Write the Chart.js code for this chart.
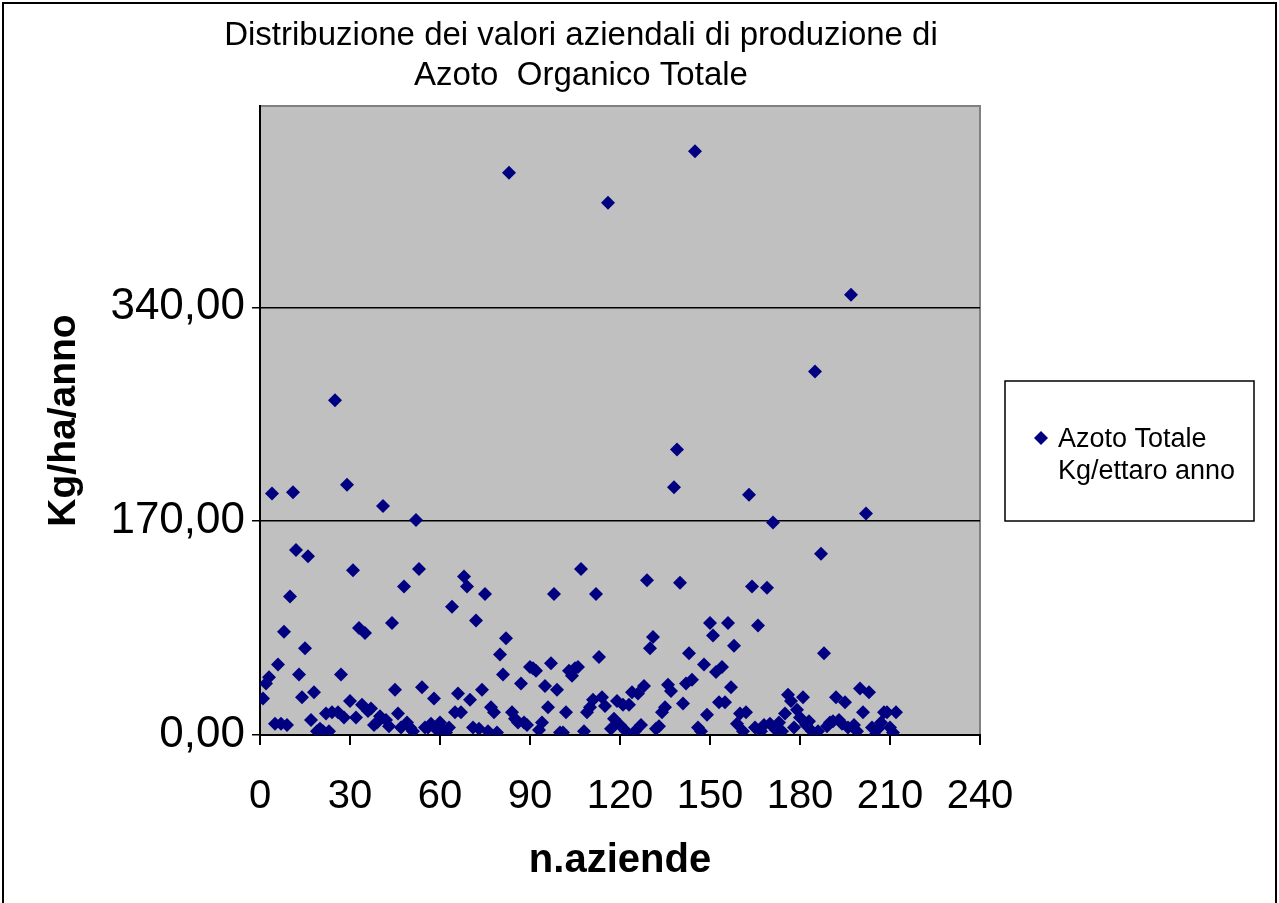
<!DOCTYPE html>
<html lang="it">
<head>
    <meta charset="UTF-8">
    <title>Azoto Organico Totale</title>
    <script src="https://cdn.jsdelivr.net/npm/chart.js"></script>
    <style>
        html, body { margin: 0; padding: 0; background: #fff; overflow: hidden; }
        #box { width: 1279px; height: 903px; }
    </style>
</head>
<body>
    <div id="box"><canvas id="azoto"></canvas></div>
    <script>
        // kg/ha/anno per azienda, in order (azienda n. 1, 2, 3 ...)
        const azotoTotale = [
            29, 41, 46, 192, 9, 56, 9, 82, 8, 110,
            193, 147, 48, 30, 69, 142, 12, 34, 3, 5,
            3, 17, 3, 18, 266, 18, 48, 14, 199, 27,
            131, 14, 85, 24, 81, 19, 21, 8, 10, 15,
            182, 12, 7, 89, 36, 17, 6, 118, 10, 6,
            3, 171, 132, 38, 6, 6, 9, 29, 4, 10,
            4, 2, 6, 102, 18, 33, 18, 126, 118, 28,
            6, 91, 5, 36, 112, 3, 22, 18, 2, 64,
            48, 77, 447, 18, 13, 10, 41, 10, 8, 54,
            53, 51, 4, 10, 39, 22, 57, 112, 36, 2,
            2, 18, 51, 47, 53, 54, 132, 3, 18, 22,
            28, 112, 62, 30, 23, 423, 5, 13, 27, 8,
            24, 3, 24, 34, 3, 33, 8, 39, 123, 69,
            78, 5, 7, 18, 22, 40, 35, 197, 227, 121,
            25, 41, 65, 44, 464, 6, 3, 56, 16, 89,
            79, 50, 26, 54, 26, 89, 38, 71, 9, 17,
            3, 18, 191, 118, 6, 87, 3, 8, 117, 9,
            169, 4, 10, 3, 17, 32, 27, 6, 20, 14,
            30, 8, 11, 3, 289, 3, 144, 65, 7, 10,
            11, 30, 12, 9, 26, 6, 350, 8, 3, 37,
            18, 176, 34, 6, 0, 5, 10, 18, 18, 6,
            2, 18
        ];
        const xTicks = [0, 30, 60, 90, 120, 150, 180, 210, 240];
        const yTicks = [0, 170, 340];
        const titolo = ['Distribuzione dei valori aziendali di produzione di', 'Azoto  Organico Totale'];
        const legenda = ['Azoto Totale', 'Kg/ettaro anno'];

        const FONT = 'Arial, "Liberation Sans", sans-serif';
        const navy = '#000080';

        const frame = {
            id: 'frame',
            beforeDraw(chart) {
                const { ctx, chartArea: a } = chart;
                ctx.save();
                ctx.fillStyle = '#fff';
                ctx.fillRect(0, 0, chart.width, chart.height);
                ctx.fillStyle = '#c0c0c0';
                ctx.fillRect(a.left, a.top, a.right - a.left, a.bottom - a.top);
                ctx.strokeStyle = '#808080';
                ctx.lineWidth = 2;
                ctx.beginPath();
                ctx.moveTo(a.left, a.top);
                ctx.lineTo(a.right, a.top);
                ctx.lineTo(a.right, a.bottom);
                ctx.stroke();
                ctx.restore();
            },
            afterDraw(chart) {
                const { ctx, chartArea: a } = chart;
                ctx.save();
                // outer frame
                ctx.strokeStyle = '#000';
                ctx.lineWidth = 2;
                ctx.strokeRect(3, 3, 1273, 920);

                ctx.fillStyle = '#000';
                ctx.textAlign = 'center';
                ctx.textBaseline = 'alphabetic';
                ctx.font = '33px ' + FONT;
                ctx.fillText(titolo[0], 581, 45);
                ctx.fillText(titolo[1], 581, 85);

                ctx.font = 'bold 40px ' + FONT;
                ctx.fillText('n.aziende', (a.left + a.right) / 2, 872);

                ctx.save();
                ctx.translate(75, (a.top + a.bottom) / 2);
                ctx.rotate(-Math.PI / 2);
                ctx.font = 'bold 39px ' + FONT;
                ctx.fillText('Kg/ha/anno', 0, 0);
                ctx.restore();

                // legend
                ctx.lineWidth = 1.5;
                ctx.strokeRect(1005, 381, 249, 140);
                ctx.fillStyle = navy;
                ctx.beginPath();
                ctx.moveTo(1041, 431);
                ctx.lineTo(1048, 438);
                ctx.lineTo(1041, 445);
                ctx.lineTo(1034, 438);
                ctx.closePath();
                ctx.fill();
                ctx.fillStyle = '#000';
                ctx.textAlign = 'left';
                ctx.font = '27px ' + FONT;
                ctx.fillText(legenda[0], 1058, 447);
                ctx.fillText(legenda[1], 1058, 479);
                ctx.restore();
            }
        };

        new Chart(document.getElementById('azoto'), {
            type: 'scatter',
            data: {
                datasets: [{
                    label: legenda.join(' '),
                    data: azotoTotale.map((v, i) => ({ x: i + 1, y: v })),
                    pointStyle: 'rectRot',
                    pointRadius: 7,
                    pointBorderWidth: 0,
                    backgroundColor: navy,
                    borderColor: navy
                }]
            },
            options: {
                responsive: true,
                maintainAspectRatio: false,
                animation: false,
                layout: { padding: { top: 106, right: 299, left: 0, bottom: 0 } },
                plugins: {
                    legend: { display: false },
                    tooltip: { enabled: false }
                },
                scales: {
                    x: {
                        type: 'linear',
                        min: 0,
                        max: 240,
                        afterBuildTicks: s => { s.ticks = xTicks.map(v => ({ value: v })); },
                        afterFit: s => { s.height = 168; },
                        ticks: { color: '#000', font: { family: FONT, size: 40 }, padding: 28, maxRotation: 0 },
                        grid: { drawOnChartArea: false, color: '#000', lineWidth: 2, tickLength: 10 },
                        border: { color: '#000', width: 2 }
                    },
                    y: {
                        min: 0,
                        max: 500,
                        afterBuildTicks: s => { s.ticks = yTicks.map(v => ({ value: v })); },
                        afterFit: s => { s.width = 260; },
                        ticks: {
                            color: '#000',
                            font: { family: FONT, size: 44 },
                            padding: 7,
                            callback: v => v.toFixed(2).replace('.', ',')
                        },
                        grid: { color: '#000', lineWidth: 1.5, tickLength: 8 },
                        border: { color: '#000', width: 2 }
                    }
                }
            },
            plugins: [frame]
        });
    </script>
</body>
</html>
